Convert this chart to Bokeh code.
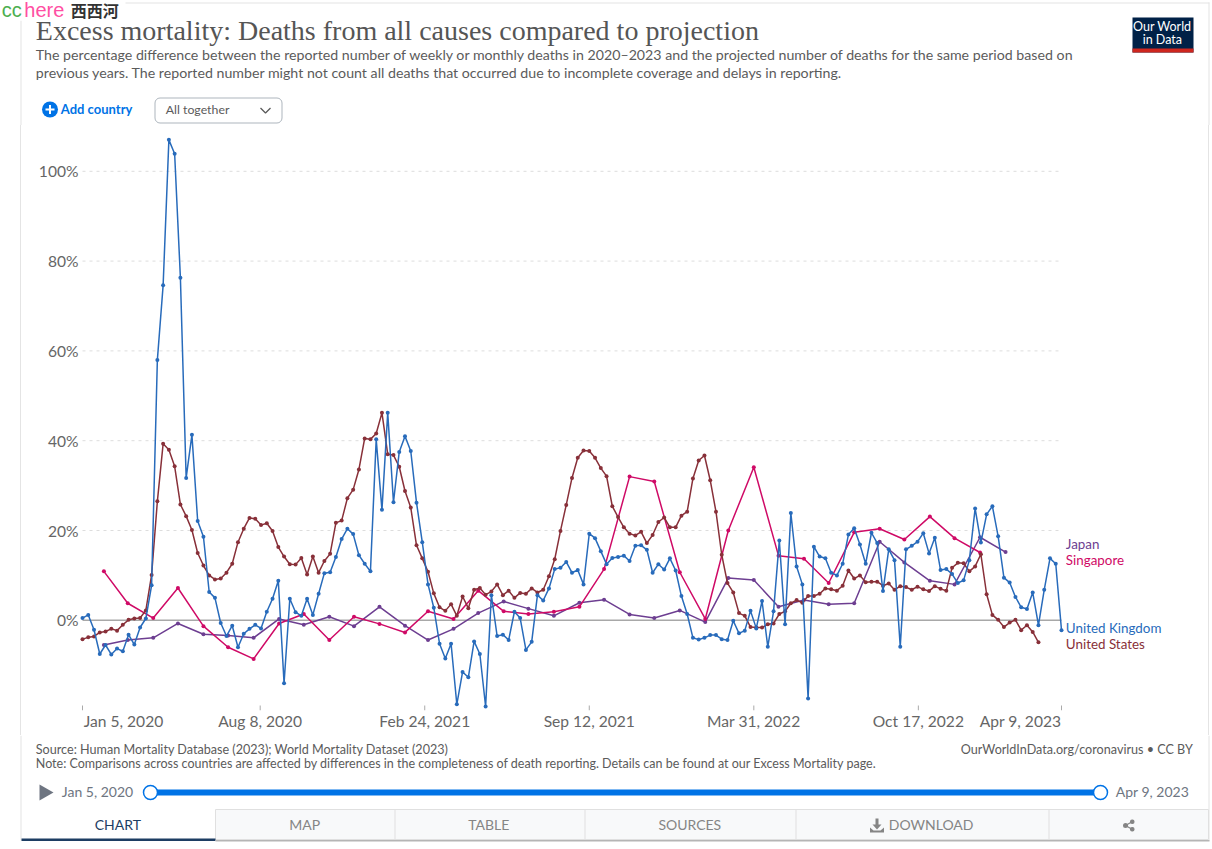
import datetime as dt
import pandas as pd
from bokeh.plotting import figure
from bokeh.layouts import column, row
from bokeh.models import Label, BoxAnnotation, PolyAnnotation, Range1d, FixedTicker, ColumnDataSource
from bokeh.embed import file_html
from bokeh.resources import INLINE

# ---------- data (percent excess deaths) ----------
uk = [0.5, 1.2, -2.1, -7.5, -5.5, -7.6, -6.3, -6.9, -3.2, -5.4, -1.6, 0.4, 7.8, 58.0, 74.6, 107.0, 103.9, 76.3,
      31.7, 41.3, 22.1, 18.6, 6.3, 5.0, -0.6, -3.5, -1.2, -6.0, -3.0, -1.9, -1.0, -1.8, 1.9, 4.8, 8.8, -14.0,
      4.8, 1.8, 1.0, 4.8, 1.2, 5.9, 10.5, 10.7, 14.1, 18.1, 20.4, 19.2, 14.5, 12.6, 10.9, 40.3, 24.6, 46.2, 26.3,
      37.5, 41.0, 37.7, 26.2, 17.4, 8.0, 2.8, -5.2, -8.5, -5.2, -18.7, -11.5, -12.7, -4.7, -7.5, -19.2, 5.6,
      -3.5, -3.2, -4.4, 1.9, 0.5, -6.6, -4.8, 5.6, 4.4, 7.1, 11.4, 11.7, 13.0, 10.6, 11.2, 8.0, 19.3, 18.3,
      15.4, 12.5, 13.9, 14.1, 14.4, 13.2, 16.6, 16.7, 15.7, 10.6, 12.5, 11.3, 13.8, 11.1, 5.4, 1.4, -3.9, -4.3,
      -3.9, -3.3, -3.3, -4.2, -4.4, -0.1, -2.9, -2.3, 2.1, -1.8, 4.3, -5.9, 2.0, 17.8, -0.9, 23.9, 12.0, 8.0,
      -17.4, 16.4, 14.2, 13.8, 10.6, 10.0, 12.6, 19.1, 20.5, 16.9, 12.6, 19.5, 17.2, 6.5, 15.8, 13.4, -5.9,
      15.8, 16.6, 17.5, 19.4, 14.9, 18.4, 11.2, 11.4, 10.3, 8.3, 8.9, 13.4, 24.9, 17.3, 23.6, 25.4, 18.7, 9.5,
      8.4, 5.2, 2.9, 2.5, 6.2, -1.1, 6.8, 13.8, 12.6, -2.2]
us = [-4.2, -3.8, -3.6, -2.7, -2.5, -1.9, -2.3, -1.0, 0.1, 0.4, 0.5, 2.2, 10.1, 26.5, 39.3, 38.0, 34.3, 25.8,
      23.2, 20.1, 15.0, 12.2, 10.0, 9.1, 9.3, 10.6, 12.6, 17.4, 20.4, 22.8, 22.6, 21.2, 21.6, 19.9, 16.3, 14.2,
      12.5, 12.4, 13.9, 10.2, 14.2, 10.6, 13.2, 14.8, 21.7, 22.2, 27.2, 29.1, 33.6, 40.5, 40.3, 41.6, 46.2,
      37.0, 36.8, 34.2, 28.8, 25.1, 16.7, 13.8, 10.8, 6.0, 2.9, 2.1, 3.6, 1.0, 5.3, 2.7, 6.8, 7.2, 5.7, 6.4,
      8.0, 5.6, 6.6, 5.0, 6.1, 5.9, 7.1, 6.2, 6.8, 9.8, 13.6, 19.9, 25.7, 31.7, 36.2, 37.8, 37.7, 36.2, 33.9,
      32.1, 25.4, 23.0, 20.7, 19.3, 18.9, 19.7, 17.2, 19.0, 21.9, 22.9, 20.7, 20.7, 23.3, 24.2, 31.6, 35.6,
      36.7, 31.2, 24.2, 14.6, 8.3, 6.2, 1.6, 1.0, -1.5, -1.6, -1.6, -0.9, -0.7, 1.4, 2.0, 3.8, 4.5, 3.9, 5.4,
      5.4, 5.9, 7.1, 6.9, 6.6, 7.7, 11.1, 9.3, 10.0, 8.5, 8.6, 8.6, 7.7, 8.2, 6.8, 7.6, 7.4, 6.8, 7.5, 6.9,
      6.5, 7.6, 7.0, 6.6, 11.7, 12.8, 12.7, 10.9, 12.0, 14.7, 5.8, 1.2, 0.1, -1.5, -0.5, 0.1, -2.2, -1.1, -2.6,
      -4.9]
singapore = [10.9, 3.8, 0.5, 7.2, -1.3, -6.0, -8.6, -0.7, 1.4, -4.4, 0.8, -0.8, -2.7, 2.0, 0.3, 6.6, 2.0, 1.4,
             1.9, 3.0, 11.4, 32.0, 30.9, 10.7, 0.3, 20.0, 34.1, 14.4, 13.7, 8.3, 19.6, 20.4, 18.0, 23.1, 18.3, 15.1]
japan = [-5.5, -4.4, -3.9, -0.7, -3.1, -3.4, -3.9, 0.3, -1.0, 0.8, -1.3, 3.0, -1.2, -4.4, -1.9, 1.6, 4.2, 2.6,
         1.0, 3.9, 4.6, 1.3, 0.5, 2.2, -0.4, 9.4, 9.0, 3.0, 4.5, 3.6, 3.8, 17.5, 12.9, 8.8, 8.0, 18.5, 15.2]

first_day = dt.datetime(2020, 1, 5)
last_day = dt.datetime(2023, 4, 9)
weekly = [first_day + dt.timedelta(days=7 * i) for i in range(len(uk))]
monthly = list(pd.date_range("2020-01-31", periods=len(japan), freq="ME").to_pydatetime())

y_ticks = [0, 20, 40, 60, 80, 100]
y_labels = ["0%", "20%", "40%", "60%", "80%", "100%"]
x_ticks = ["2020-01-05", "2020-08-08", "2021-02-24", "2021-09-12", "2022-03-31", "2022-10-17", "2023-04-09"]
x_labels = ["Jan 5, 2020", "Aug 8, 2020", "Feb 24, 2021", "Sep 12, 2021", "Mar 31, 2022", "Oct 17, 2022", "Apr 9, 2023"]

title = "Excess mortality: Deaths from all causes compared to projection"
sub1 = ("The percentage difference between the reported number of weekly or monthly deaths in 2020\u20132023 "
        "and the projected number of deaths for the same period based on")
sub2 = ("previous years. The reported number might not count all deaths that occurred due to incomplete "
        "coverage and delays in reporting.")
src = "Source: Human Mortality Database (2023); World Mortality Dataset (2023)"
note = ("Note: Comparisons across countries are affected by differences in the completeness of death reporting. "
        "Details can be found at our Excess Mortality page.")
credit = "OurWorldInData.org/coronavirus \u2022 CC BY"

# ---------- colours ----------
C_UK, C_US, C_SG, C_JP = "#286bbb", "#883039", "#cf0a66", "#6d3e91"
GREY, BLUE, TICK = "#5b5b5b", "#0073e6", "#666666"
EDGE = "#e4e4e4"

# ---------- layout (page pixels) ----------
W, H = 1212, 849
MAIN_L, MAIN_R, MAIN_T, MAIN_B = 30, 1065, 125, 735
F_L, F_T, F_B = 78, 125, 710
PX_DAY = (1061 - 82) / (last_day - first_day).days
PX_PCT, Y0 = 4.49, 619.8


def ms(d):
    return pd.Timestamp(d).timestamp() * 1000


def X(px):
    return ms(first_day) + (px - 82) / PX_DAY * 864e5


def Y(py):
    return (Y0 - py) / PX_PCT


# ---------- main chart ----------
p = figure(width=MAIN_R - MAIN_L, height=MAIN_B - MAIN_T, x_axis_type="datetime", output_backend="svg",
           toolbar_location=None, x_range=Range1d(X(F_L), X(MAIN_R)), y_range=Range1d(Y(F_B), Y(F_T)),
           min_border_left=F_L - MAIN_L, min_border_right=0, min_border_top=0, min_border_bottom=MAIN_B - F_B)
p.outline_line_color = None
p.grid.visible = False

# the outer two date labels lie inside the ends of the axis, so their ticks sit at the labels' centres
label_pos = [X(123)] + [ms(d) for d in x_ticks[1:-1]] + [X(1020)]
p.xaxis.ticker = FixedTicker(ticks=label_pos)
p.xaxis.major_label_overrides = dict(zip(label_pos, x_labels))
p.xaxis.axis_line_color = None
p.xaxis.minor_tick_line_color = None
p.xaxis.major_tick_line_color = None
p.xaxis.major_tick_in = 0
p.xaxis.major_tick_out = 0
p.xaxis.major_label_text_font = "Lato"
p.xaxis.major_label_text_font_size = "15.6px"
p.xaxis.major_label_text_color = TICK
p.xaxis.major_label_standoff = 1

p.yaxis.ticker = FixedTicker(ticks=y_ticks)
p.yaxis.major_label_overrides = dict(zip(y_ticks, y_labels))
p.yaxis.axis_line_color = None
p.yaxis.minor_tick_line_color = None
p.yaxis.major_tick_line_color = None
p.yaxis.major_tick_in = 0
p.yaxis.major_tick_out = 0
p.yaxis.major_label_text_font = "Lato"
p.yaxis.major_label_text_font_size = "15.6px"
p.yaxis.major_label_text_color = TICK
p.yaxis.major_label_standoff = 0

# tick marks
for d in x_ticks:
    p.line([ms(d), ms(d)], [Y(705), Y(710)], line_color="#aaaaaa", line_width=1)

# grid
for t in y_ticks:
    if t == 0:
        p.line([first_day, last_day], [t, t], line_color="#a8a8a8", line_width=1.5)
    else:
        p.line([first_day, last_day], [t, t], line_color="#dddddd", line_width=1, line_dash="3 4")

# series
for xs, ys, col in [(monthly, japan, C_JP), (monthly[:len(singapore)], singapore, C_SG),
                    (weekly[:len(us)], us, C_US), (weekly, uk, C_UK)]:
    ds = ColumnDataSource(dict(x=xs, y=ys))
    p.line("x", "y", source=ds, line_color=col, line_width=1.5)
    p.scatter("x", "y", source=ds, size=4, fill_color=col, line_color=col, line_width=0)


# ---------- panels around the chart: their data units are page pixels ----------
def panel(x0, y0, x1, y1, frame_bottom=None):
    fb = y1 if frame_bottom is None else frame_bottom
    f = figure(width=x1 - x0, height=y1 - y0, output_backend="svg", toolbar_location=None,
               x_range=Range1d(x0, x1), y_range=Range1d(fb, y0), x_axis_type=None, y_axis_type=None,
               min_border_left=0, min_border_right=0, min_border_top=0, min_border_bottom=y1 - fb)
    f.outline_line_color = None
    f.grid.visible = False
    return f


def txt(f, x, y, s, size=13, color=GREY, font="Lato", align="left", style="normal"):
    f.add_layout(Label(x=x - 0.7, y=y - 0.8, text=s, text_font=font, text_font_size=f"{size}px", text_color=color,
                       text_align=align, text_baseline="middle", text_font_style=style))


def box(f, l, t, r, b, fill=None, line=None, lw=1, radius=0):
    f.add_layout(BoxAnnotation(left=l, right=r, top=t, bottom=b, fill_color=fill, fill_alpha=1 if fill else 0,
                               line_color=line, line_width=lw, line_alpha=1 if line else 0,
                               border_radius=radius))


def poly(f, xs, ys, fill):
    f.add_layout(PolyAnnotation(xs=xs, ys=ys, fill_color=fill, fill_alpha=1, line_alpha=0))


def edge_style(f, at):
    # the card's vertical edge, drawn behind a see-through panel so that it runs the panel's full height
    f.background_fill_color = None
    f.border_fill_color = None
    f.styles = {"background": f"linear-gradient(to right, white {at}px, {EDGE} {at}px, "
                              f"{EDGE} {at + 1}px, white {at + 1}px)"}


# header
hd = panel(0, 0, W, MAIN_T)
box(hd, 20, 2, 1209, 3, EDGE)
box(hd, 20, 20, 21, MAIN_T, EDGE)
box(hd, 1208, 2, 1209, MAIN_T, EDGE)
box(hd, 0, 0, 125, 20, "white")
txt(hd, 2, 10, "cc", 20, "#4caf50", "Liberation Sans")
txt(hd, 24.5, 10, "here", 20, "#ff4fa3", "Liberation Sans")
txt(hd, 71, 10, "\u897f\u897f\u6cb3", 16, "#333333", "Noto Sans CJK SC", style="bold")
txt(hd, 36, 30.5, title, 28, "#555555", "Liberation Serif")
txt(hd, 36, 55, sub1, 14.2, GREY)
txt(hd, 36, 73, sub2, 14.2, GREY)
box(hd, 1132, 17, 1193, 52, "#002147")
box(hd, 1132, 48, 1193, 52, "#ce261e")
txt(hd, 1162.5, 27, "Our World", 12.5, "white", align="center")
txt(hd, 1162.5, 40, "in Data", 12.5, "white", align="center")
box(hd, 41.5, 101, 57.5, 117, BLUE, radius=8)
box(hd, 45, 108, 54, 110, "white")
box(hd, 48.5, 104.5, 50.5, 113.5, "white")
txt(hd, 61, 109.5, "Add country", 13, BLUE, style="bold")
box(hd, 154.5, 97.5, 281.5, 122.5, "white", "#adb5bd", radius=5)
txt(hd, 166, 110, "All together", 12.3, GREY)
hd.line([260, 265, 270], [107.5, 112.5, 107.5], line_color=GREY, line_width=1.3, level="overlay")

# left and right of the chart
lf = panel(0, MAIN_T, MAIN_L, MAIN_B, F_B)
edge_style(lf, 20)
rt = panel(MAIN_R, MAIN_T, W, MAIN_B, F_B)
edge_style(rt, 1208 - MAIN_R)
txt(rt, 1066, 544, "Japan", 13.4, C_JP)
txt(rt, 1066, 560, "Singapore", 13.4, C_SG)
txt(rt, 1066, 628, "United Kingdom", 13.4, C_UK)
txt(rt, 1066, 644, "United States", 13.4, C_US)

# footer
ft = panel(0, MAIN_B, W, H)
box(ft, 20, MAIN_B, 21, 840, EDGE)
box(ft, 1208, MAIN_B, 1209, 840, EDGE)
txt(ft, 36, 750, src, 12.6, GREY)
txt(ft, 36, 764, note, 12.5, GREY)
txt(ft, 1193, 750, credit, 12.6, GREY, align="right")
poly(ft, [39, 53, 39], [784, 792, 800], "#6e7581")
txt(ft, 62, 792, x_labels[0], 14, "#6e7581")
box(ft, 150, 789, 1100, 795, BLUE)
box(ft, 143, 785, 157, 799, "white", BLUE, 1.5, radius=7)
box(ft, 1093, 785, 1107, 799, "white", BLUE, 1.5, radius=7)
txt(ft, 1116, 792, x_labels[-1], 14, "#6e7581")
box(ft, 215, 809, 1208, 839, "#f8f9fa", "#e0e0e0")
for sep in [394, 584, 795, 1048]:
    box(ft, sep, 809, sep + 1, 839, "#e0e0e0")
box(ft, 21, 838, 215, 840.5, "#1d3d63")
box(ft, 215, 839.5, 1209, 841, "#b5b5b5")
TAB = "#858585"
txt(ft, 118, 825, "CHART", 14, "#1d3d63", align="center")
txt(ft, 305, 825, "MAP", 14, TAB, align="center")
txt(ft, 489, 825, "TABLE", 14, TAB, align="center")
txt(ft, 690, 825, "SOURCES", 14, TAB, align="center")
txt(ft, 889, 825, "DOWNLOAD", 14, TAB)
box(ft, 875, 818, 878, 825, TAB)
poly(ft, [872, 881, 876.5], [824, 824, 829], TAB)
poly(ft, [869.5, 873, 880, 883.5, 883.5, 869.5], [827, 830, 830, 827, 832, 832], TAB)
ft.line([1125, 1132], [825, 821], line_color=TAB, line_width=1.3, level="overlay")
ft.line([1125, 1132], [825, 829], line_color=TAB, line_width=1.3, level="overlay")
box(ft, 1122.5, 822.5, 1127.5, 827.5, TAB, radius=3)
box(ft, 1129.5, 819, 1134, 823.5, TAB, radius=2)
box(ft, 1129.5, 826.5, 1134, 831, TAB, radius=2)

page = column(hd, row(lf, p, rt, spacing=0), ft, spacing=0)
open("out.html", "w").write(file_html(page, INLINE))
